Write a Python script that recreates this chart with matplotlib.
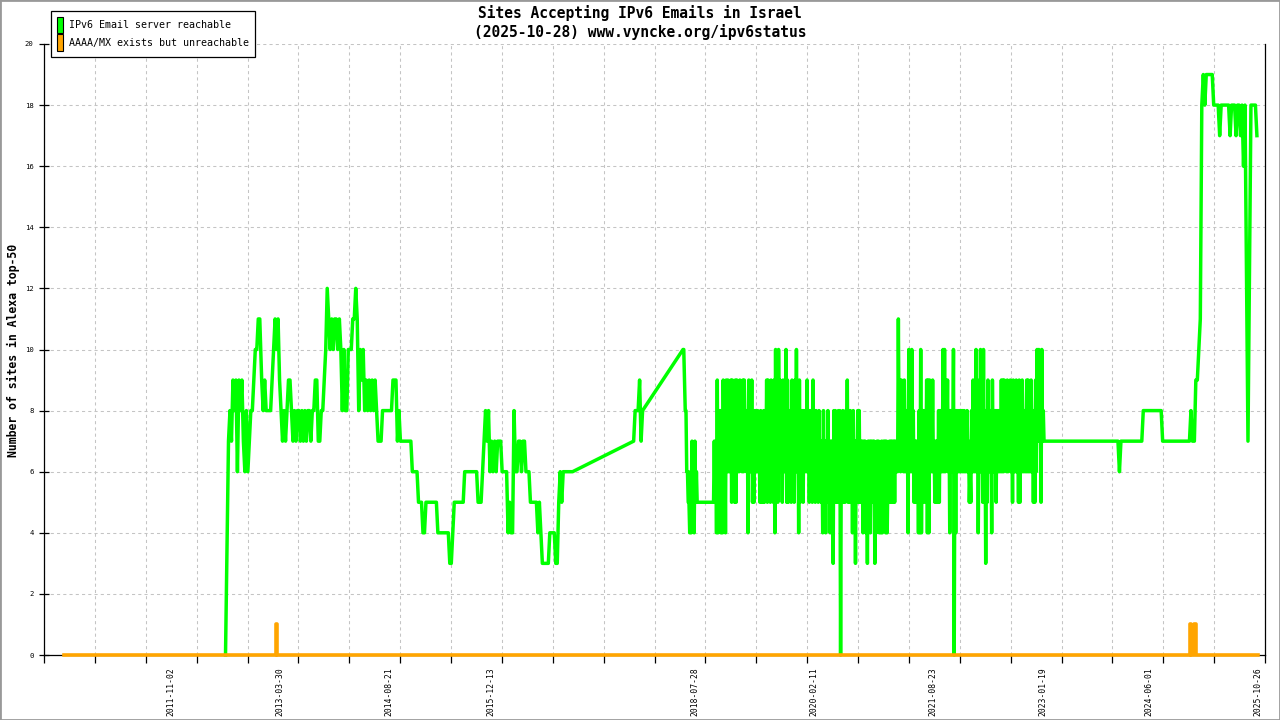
import numpy as np
import pandas as pd
import matplotlib
matplotlib.use("Agg")
import matplotlib.pyplot as plt
import matplotlib.dates as mdates
from matplotlib.patches import Patch, Rectangle
from matplotlib.ticker import FixedLocator

# green series, calmer years: one reading per week from the start date
reach_2012 = [0, 3.5, 7, 8, 7, 9, 8, 9, 6, 9, 8, 9, 7, 6, 8, 6, 7, 8, 8, 9, 10, 10, 11, 11]
reach_2013 = [9, 8, 9, 8, 8, 8, 8, 9, 10, 11, 10, 11, 9, 8, 7, 8, 7, 8, 9, 9,
              8, 7, 8, 7, 8, 8, 7, 8, 7, 8, 7, 8, 8, 7, 8, 8, 9, 9, 7, 7,
              8, 8, 9, 10, 12, 11, 10, 11, 10, 11, 11, 10]
reach_2014 = [11, 10, 8, 10, 8, 8, 10, 10, 10, 11, 11, 12, 11, 8, 10, 9, 10, 8, 9, 8,
              9, 8, 9, 8, 9, 8, 7, 7, 7, 8, 8, 8, 8, 8, 8, 8, 9, 9, 9, 7,
              8, 7, 7, 7, 7, 7, 7, 7, 7, 6, 6, 6]
reach_2015 = [6, 5, 5, 5, 4, 4, 5, 5, 5, 5, 5, 5, 5, 5, 4, 4, 4, 4, 4, 4,
              4, 4, 3, 3, 4, 5, 5, 5, 5, 5, 5, 5, 6, 6, 6, 6, 6, 6, 6, 6,
              6, 5, 5, 5, 6, 7, 8, 7, 8, 6, 7, 6]
reach_2016 = [7, 6, 7, 7, 7, 6, 6, 6, 6, 4, 5, 4, 4, 8, 6, 6, 7, 7, 6, 7,
              7, 6, 6, 6, 5, 5, 5, 5, 5, 4, 5, 4, 3, 3, 3, 3, 3, 4, 4, 4,
              4, 3, 3, 5, 6, 5, 6, 6, 6, 6, 6, 6]
reach_2017a = [6]
reach_2017b = [7, 8, 8, 8, 9, 7, 8]

# noisy years: weekly high and low readings
hi_2018 = [10, 9, 8, 6, 5, 6, 7, 6, 7, 6, 5, 5, 5, 5, 5, 5, 5, 5, 5, 5,
           5, 7, 7, 9, 8, 8, 7, 9, 8, 9]
lo_2018 = [10, 8, 6, 5, 4, 4, 5, 4, 5, 5, 5, 5, 5, 5, 5, 5, 5, 5, 5, 5,
           5, 5, 4, 4, 6, 4, 4, 6, 4, 6]
hi_2019 = [9, 8, 9, 9, 8, 9, 9, 8, 9, 8, 9, 9, 8, 8, 9, 8, 9, 7, 8, 8,
           8, 7, 8, 7, 8, 8, 9, 9, 8, 9, 8, 9, 10, 9, 10, 9, 8, 9, 8, 10,
           9, 8, 8, 9, 8, 9, 10, 8, 9, 8, 8, 8]
lo_2019 = [6, 6, 5, 7, 5, 5, 6, 6, 7, 6, 6, 7, 6, 4, 6, 6, 5, 5, 6, 6,
           6, 5, 5, 5, 5, 6, 5, 6, 5, 6, 5, 4, 6, 5, 7, 6, 5, 6, 6, 5,
           5, 6, 5, 6, 5, 6, 6, 4, 5, 6, 5, 6]
hi_2020 = [8, 9, 8, 8, 7, 9, 8, 8, 7, 8, 7, 7, 8, 7, 7, 8, 7, 7, 7, 8,
           8, 7, 8, 8, 7, 8, 7, 8, 9, 8, 8, 7, 8, 7, 7, 8, 8, 7, 7, 7,
           7, 6, 7, 7, 7, 7, 7, 6, 7, 7, 6, 7]
lo_2020 = [6, 6, 5, 6, 5, 6, 5, 6, 5, 6, 5, 4, 5, 4, 5, 5, 4, 5, 3, 5,
           5, 5, 5, 0, 5, 5, 5, 6, 5, 5, 5, 4, 5, 3, 5, 5, 5, 5, 4, 5,
           4, 3, 5, 4, 5, 5, 3, 4, 5, 4, 4, 4]
hi_2021 = [7, 7, 7, 6, 7, 7, 7, 7, 7, 7, 11, 9, 9, 8, 9, 8, 8, 10, 9, 10,
           8, 7, 7, 7, 8, 10, 8, 8, 8, 9, 9, 9, 8, 9, 7, 7, 7, 8, 8, 8,
           10, 10, 9, 9, 8, 8, 8, 10, 8, 8, 8, 8]
lo_2021 = [5, 4, 4, 5, 5, 5, 5, 5, 6, 6, 7, 6, 7, 6, 6, 6, 4, 6, 6, 6,
           5, 5, 5, 4, 4, 4, 6, 5, 6, 4, 4, 6, 6, 6, 5, 5, 5, 5, 6, 6,
           6, 6, 7, 6, 4, 6, 6, 0, 4, 6, 6, 6]
hi_2022 = [8, 8, 8, 7, 8, 7, 6, 8, 9, 8, 10, 9, 8, 10, 9, 10, 8, 8, 9, 8,
           8, 9, 8, 8, 8, 8, 8, 9, 9, 9, 8, 9, 8, 9, 8, 9, 8, 9, 8, 9,
           8, 9, 8, 8, 9, 9, 8, 9, 8, 8, 9, 10]
lo_2022 = [6, 6, 6, 6, 6, 5, 5, 6, 6, 6, 6, 4, 6, 6, 5, 6, 3, 5, 6, 6,
           4, 6, 6, 5, 6, 6, 6, 6, 6, 7, 6, 6, 7, 6, 5, 6, 6, 6, 5, 5,
           6, 6, 6, 6, 6, 6, 6, 6, 5, 5, 6, 7]
hi_2023 = [10, 9, 10, 8, 7]
lo_2023 = [7, 5, 7, 7, 7]

reach_2023 = [7, 7, 7, 7, 7, 7, 7, 7, 7, 7, 7, 7, 7, 7, 7, 7, 7, 7, 7, 7,
              7, 7, 7, 7, 7, 7, 7, 7, 7, 7, 7, 7, 7, 7, 7, 7, 7, 7, 7, 7,
              7, 7, 7, 7, 7, 7, 7]
reach_2024 = [7, 7, 6, 7, 7, 7, 7, 7, 7, 7, 7, 7, 7, 7, 7, 7, 7, 7, 8, 8,
              8, 8, 8, 8, 8, 8, 8, 8, 8, 8, 8, 7, 7, 7, 7, 7, 7, 7, 7, 7,
              7, 7, 7, 7, 7, 7, 7, 7, 7, 7, 8, 7]
reach_2025 = [7, 9, 9, 10, 11, 18, 19, 18, 19, 19, 19, 19, 19, 18, 18, 18, 18, 17, 18, 18,
              18, 18, 18, 18, 17, 18, 18, 18, 17, 18, 18, 17, 18, 16, 18, 12.5, 7, 12.5, 18, 18,
              18, 18, 17]

# orange series: change points (steps)
unreach_dates = ["2010-06-17", "2013-03-09", "2013-03-13", "2024-12-10", "2024-12-18",
                 "2024-12-31", "2025-01-09", "2025-10-28"]
unreach_vals = [0, 1, 0, 1, 0, 1, 0, 0]

label_dates = ["2011-11-02", "2013-03-30", "2014-08-21", "2015-12-13", "2018-07-28",
               "2020-02-11", "2021-08-23", "2023-01-19", "2024-06-01", "2025-10-26"]

GREEN = "#00ff00"
ORANGE = "#ffa500"
MONO = "DejaVu Sans Mono"


def weekly(start, vals):
    return list(pd.date_range(start, periods=len(vals), freq="7D")), list(vals)


def weekly_pairs(start, hi, lo):
    dates, vals = [], []
    for t, h, l in zip(pd.date_range(start, periods=len(hi), freq="7D"), hi, lo):
        dates += [t, t + pd.Timedelta(hours=84)]
        vals += [h, l]
    return dates, vals


pieces = [
    weekly("2012-07-15", reach_2012),
    weekly("2013-01-01", reach_2013),
    weekly("2014-01-01", reach_2014),
    weekly("2015-01-01", reach_2015),
    weekly("2016-01-01", reach_2016),
    weekly("2017-01-01", reach_2017a),
    weekly("2017-10-15", reach_2017b),
    weekly_pairs("2018-06-04", hi_2018, lo_2018),
    weekly_pairs("2019-01-01", hi_2019, lo_2019),
    weekly_pairs("2020-01-01", hi_2020, lo_2020),
    weekly_pairs("2021-01-01", hi_2021, lo_2021),
    weekly_pairs("2022-01-01", hi_2022, lo_2022),
    weekly_pairs("2023-01-01", hi_2023, lo_2023),
    weekly("2023-02-05", reach_2023),
    weekly("2024-01-01", reach_2024),
    weekly("2025-01-01", reach_2025),
]
g_dates, g_vals = [], []
for d, v in pieces:
    g_dates += d
    g_vals += v

fig = plt.figure(figsize=(12.8, 7.2), dpi=100)
ax = fig.add_axes([44 / 1280, 1 - 655 / 720, (1265 - 44) / 1280, (655 - 44) / 720])

ax.plot(g_dates, g_vals, color=GREEN, lw=2.5, zorder=3, clip_on=False)
ax.plot(pd.to_datetime(unreach_dates), unreach_vals, color=ORANGE, lw=2.6,
        drawstyle="steps-post", zorder=4, clip_on=False)

x0 = mdates.date2num(pd.Timestamp("2010-03-15"))
x1 = mdates.date2num(pd.Timestamp("2025-11-29"))
ax.set_xlim(x0, x1)
ax.set_ylim(0, 20)

ax.set_xticks(mdates.date2num(pd.to_datetime(label_dates)))
ax.set_xticklabels(label_dates, rotation=90, fontsize=5.8, family=MONO, va="top")
ax.xaxis.set_minor_locator(FixedLocator(np.linspace(x0, x1, 25)))
ax.tick_params(axis="x", which="major", length=0, pad=8.5)
ax.tick_params(axis="x", which="minor", length=5.5, width=0.9, direction="out")

ax.set_yticks(np.arange(0, 21, 2))
ax.tick_params(axis="y", which="major", length=7, width=0.9, direction="inout",
               labelsize=5.2, pad=4)
for t in ax.get_yticklabels():
    t.set_family(MONO)

ax.grid(which="minor", axis="x", color="#c4c4c4", lw=0.75, ls=(0, (3, 3)))
ax.grid(which="major", axis="y", color="#c4c4c4", lw=0.75, ls=(0, (3, 3)))
ax.set_axisbelow(True)

ax.spines["top"].set_visible(False)
for s in ["left", "right", "bottom"]:
    ax.spines[s].set_linewidth(0.9)
    ax.spines[s].set_color("black")

fig.text(0.5, 1 - 18.3 / 720, "Sites Accepting IPv6 Emails in Israel", ha="center",
         va="baseline", fontsize=10.5, family=MONO, weight="bold")
fig.text(0.5, 1 - 36.7 / 720, "(2025-10-28) www.vyncke.org/ipv6status", ha="center",
         va="baseline", fontsize=10.5, family=MONO, weight="bold")
fig.text(13 / 1280, 1 - 350 / 720, "Number of sites in Alexa top-50", rotation=90,
         ha="center", va="center", fontsize=8.3, family=MONO, weight="bold")

handles = [Patch(facecolor=GREEN, edgecolor="black", lw=0.8),
           Patch(facecolor=ORANGE, edgecolor="black", lw=0.8)]
leg = fig.legend(handles, ["IPv6 Email server reachable", "AAAA/MX exists but unreachable"],
                 loc="upper left", bbox_to_anchor=(50.7 / 1280, 1 - 10.7 / 720),
                 prop={"family": MONO, "size": 7.2}, fancybox=False, framealpha=1,
                 edgecolor="black", handlelength=0.6, handleheight=2.1,
                 handletextpad=0.55, labelspacing=0.12, borderpad=0.65,
                 borderaxespad=0)
leg.get_frame().set_linewidth(0.9)

fig.patches.append(Rectangle((0, 0), 1, 1, transform=fig.transFigure, fill=False,
                             edgecolor="#999999", lw=2.0))

fig.savefig("out.png", dpi=100)
